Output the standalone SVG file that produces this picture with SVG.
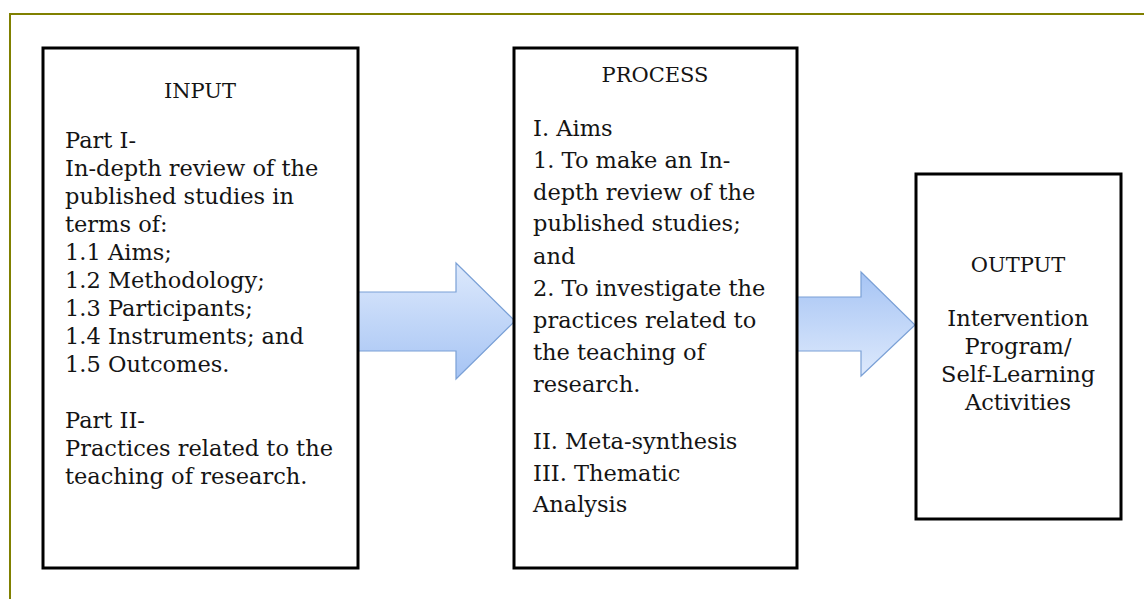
<svg xmlns="http://www.w3.org/2000/svg" width="1144" height="599" viewBox="0 0 1144 599">
  <defs>
    <linearGradient id="gDown" x1="0" y1="0" x2="0" y2="1">
      <stop offset="0" stop-color="#dde9fc"/>
      <stop offset="1" stop-color="#a6c4f4"/>
    </linearGradient>
    <linearGradient id="gUp" x1="0" y1="0" x2="0" y2="1">
      <stop offset="0" stop-color="#a6c4f4"/>
      <stop offset="1" stop-color="#dde9fc"/>
    </linearGradient>
  </defs>
  <style>
    .box { fill: #ffffff; stroke: #000000; stroke-width: 3; }
    .arrow { stroke: #7aa0d6; stroke-width: 1.2; stroke-linejoin: miter; }
    text { font-family: "DejaVu Serif", "Liberation Serif", serif; font-size: 22.5px; fill: #141414; }
    .head { text-anchor: middle; font-size: 21px; }
    .mid { text-anchor: middle; }
  </style>
  <rect width="1144" height="599" fill="#ffffff"/>
  <path d="M10,599 V14 H1144" fill="none" stroke="#808000" stroke-width="2"/>

  <g id="connectors">
    <path class="arrow" fill="url(#gDown)" d="M358,292 H456 V263 L515,321 L456,379 V351 H358 Z"/>
    <path class="arrow" fill="url(#gUp)" d="M797,297 H861 V272 L915,325 L861,376 V351 H797 Z"/>
  </g>

  <g id="input">
    <rect class="box" x="43" y="48" width="315" height="520"/>
    <text class="head" x="200" y="98">INPUT</text>
    <text x="65" y="148">Part I-</text>
    <text x="65" y="176">In-depth review of the</text>
    <text x="65" y="204">published  studies in</text>
    <text x="65" y="232">terms of:</text>
    <text x="65" y="260">1.1 Aims;</text>
    <text x="65" y="288">1.2 Methodology;</text>
    <text x="65" y="316">1.3 Participants;</text>
    <text x="65" y="344">1.4 Instruments; and</text>
    <text x="65" y="372">1.5 Outcomes.</text>
    <text x="65" y="428">Part II-</text>
    <text x="65" y="456">Practices related to the</text>
    <text x="65" y="484">teaching of research.</text>
  </g>

  <g id="process">
    <rect class="box" x="514" y="48" width="283" height="520"/>
    <text class="head" x="655" y="82">PROCESS</text>
    <text x="533" y="136">I. Aims</text>
    <text x="533" y="168">1. To make an In-</text>
    <text x="533" y="200">depth review of the</text>
    <text x="533" y="231">published  studies;</text>
    <text x="533" y="264">and</text>
    <text x="533" y="296">2. To investigate the</text>
    <text x="533" y="328">practices related to</text>
    <text x="533" y="360">the teaching of</text>
    <text x="533" y="392">research.</text>
    <text x="533" y="449">II. Meta-synthesis</text>
    <text x="533" y="481">III. Thematic</text>
    <text x="533" y="512">Analysis</text>
  </g>

  <g id="output">
    <rect class="box" x="916" y="174" width="205" height="345"/>
    <text class="head" x="1018" y="272">OUTPUT</text>
    <text class="mid" x="1018" y="326">Intervention</text>
    <text class="mid" x="1018" y="354">Program/</text>
    <text class="mid" x="1018" y="382">Self-Learning</text>
    <text class="mid" x="1018" y="410">Activities</text>
  </g>
</svg>
